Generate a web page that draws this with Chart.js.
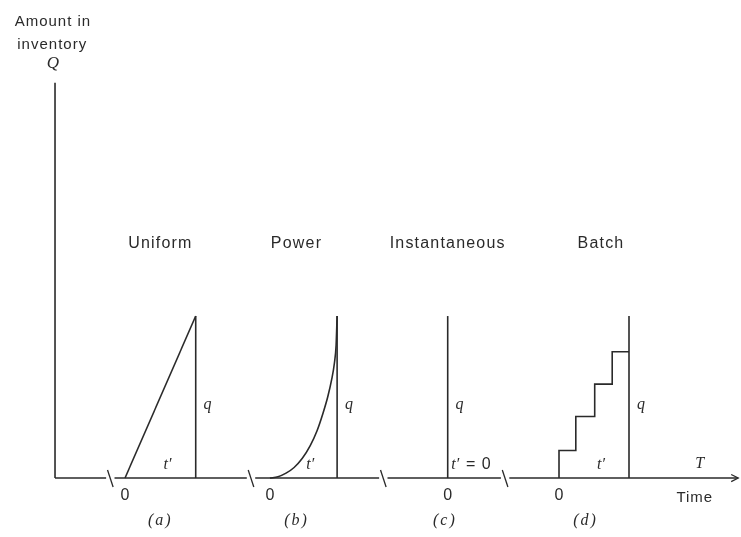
<!DOCTYPE html>
<html>
<head>
<meta charset="utf-8">
<script src="https://cdn.jsdelivr.net/npm/chart.js@4.4.1/dist/chart.umd.min.js"></script>
<style>
  html, body { margin: 0; padding: 0; background: #fff; }
  canvas { display: block; }
</style>
</head>
<body>
<canvas id="chart" width="741" height="537"></canvas>
<script>
// four demand patterns; time in arbitrary units, inventory in units of q
const panelTitles = ['Uniform', 'Power', 'Instantaneous', 'Batch'];
const panelTags = ['(a)', '(b)', '(c)', '(d)'];
const panelOrigins = [1.0, 3.07, 5.61, 7.2];
const panelWidths = [1.01, 0.96, 0, 1.0];   // t'
const qLevel = 1;
const axisBreaks = [0.79, 2.8, 4.69, 6.43];
const axisEnd = 9.76;
const yAxisTop = 2.44;

// power pattern, read as fraction of t' / fraction of q
const powerX = [0, 0.12, 0.24, 0.36, 0.48, 0.6, 0.7, 0.79, 0.86, 0.92, 0.96, 0.985, 1];
const powerY = [0, 0.008, 0.03, 0.065, 0.12, 0.2, 0.29, 0.4, 0.5, 0.61, 0.71, 0.82, 1];

// batch pattern, step corners
const batchX = [0, 0.24, 0.51, 0.76, 1];
const batchY = [0, 0.17, 0.38, 0.58, 0.78];

const ink = '#2a2a2a';
const gap = 0.06;

function seg(points, extra) {
    return Object.assign({
        data: points,
        showLine: true,
        borderColor: ink,
        borderWidth: 1.6,
        pointRadius: 0,
        fill: false
    }, extra || {});
}

const datasets = [];

// vertical axis
datasets.push(seg([{ x: 0, y: 0 }, { x: 0, y: yAxisTop }]));

// horizontal axis with breaks
let start = 0;
axisBreaks.forEach(b => {
    datasets.push(seg([{ x: start, y: 0 }, { x: b - gap, y: 0 }]));
    datasets.push(seg([{ x: b - 0.04, y: 0.05 }, { x: b + 0.04, y: -0.055 }], { borderWidth: 1.3 }));
    start = b + gap;
});
datasets.push(seg([{ x: start, y: 0 }, { x: axisEnd, y: 0 }]));
datasets.push(seg([{ x: axisEnd - 0.1, y: 0.022 }, { x: axisEnd, y: 0 }, { x: axisEnd - 0.1, y: -0.022 }], { borderWidth: 1.3 }));

// (a) uniform
datasets.push(seg([{ x: panelOrigins[0], y: 0 }, { x: panelOrigins[0] + panelWidths[0], y: qLevel }]));
// (b) power
datasets.push(seg(powerX.map((v, i) => ({ x: panelOrigins[1] + v * panelWidths[1], y: powerY[i] * qLevel })),
    { cubicInterpolationMode: 'monotone' }));
// (d) batch
datasets.push(seg(batchX.map((v, i) => ({ x: panelOrigins[3] + v * panelWidths[3], y: batchY[i] * qLevel })),
    { stepped: 'after' }));

// q verticals at the end of each t'
panelOrigins.forEach((o, i) => {
    const xe = o + panelWidths[i];
    datasets.push(seg([{ x: xe, y: 0 }, { x: xe, y: qLevel }]));
});

// text placement
const sans = '"Liberation Sans"';
const serif = '"Liberation Serif"';
const textItems = [
    { t: 'Amount in', x: -0.03, y: 2.815, font: '15px ' + sans, sp: '1px' },
    { t: 'inventory', x: -0.04, y: 2.675, font: '15px ' + sans, sp: '1px' },
    { t: 'Q', x: -0.03, y: 2.56, font: 'italic 17px ' + serif },
    { t: 'T', x: 9.21, y: 0.085, font: 'italic 16px ' + serif },
    { t: 'Time', x: 9.14, y: -0.125, font: '15px ' + sans, sp: '1px' }
];
const titleShift = [0, -0.1, 0, 0.1];
const tagShift = [0, -0.1, -0.04, -0.12];
panelTitles.forEach((t, i) => {
    const o = panelOrigins[i], w = panelWidths[i];
    textItems.push({ t: t, x: o + w / 2 + titleShift[i], y: 1.45, font: '16px ' + sans, sp: '1.2px' });
    textItems.push({ t: panelTags[i], x: o + w / 2 + tagShift[i], y: -0.265, font: 'italic 16px ' + serif, sp: '2px' });
    textItems.push({ t: '0', x: o, y: -0.11, font: '16px ' + sans });
    textItems.push({ t: 'q', x: o + w + 0.17, y: 0.45, font: 'italic 16px ' + serif });
    if (w > 0) {
        textItems.push({ t: 't\u2032', x: o + w * 0.6, y: 0.08, font: 'italic 16px ' + serif });
    } else {
        textItems.push({ t: 't\u2032', x: o + 0.05, y: 0.08, font: 'italic 16px ' + serif, align: 'left' });
        textItems.push({ t: '= 0', x: o + 0.26, y: 0.08, font: '16px ' + sans, sp: '1px', align: 'left' });
    }
});

const labelPlugin = {
    id: 'labels',
    afterDatasetsDraw(chart) {
        const { ctx, scales } = chart;
        ctx.save();
        ctx.fillStyle = ink;
        ctx.textBaseline = 'middle';
        textItems.forEach(it => {
            ctx.font = it.font;
            ctx.letterSpacing = it.sp || '0px';
            ctx.textAlign = it.align || 'center';
            ctx.fillText(it.t, scales.x.getPixelForValue(it.x), scales.y.getPixelForValue(it.y));
        });
        ctx.restore();
    }
};

new Chart(document.getElementById('chart'), {
    type: 'scatter',
    data: { datasets: datasets },
    options: {
        responsive: false,
        animation: false,
        layout: { padding: 0 },
        scales: {
            x: { type: 'linear', display: false, min: -0.786, max: 9.8 },
            y: { type: 'linear', display: false, min: -0.364, max: 2.951 }
        },
        plugins: {
            legend: { display: false },
            tooltip: { enabled: false }
        }
    },
    plugins: [labelPlugin]
});
</script>
</body>
</html>
